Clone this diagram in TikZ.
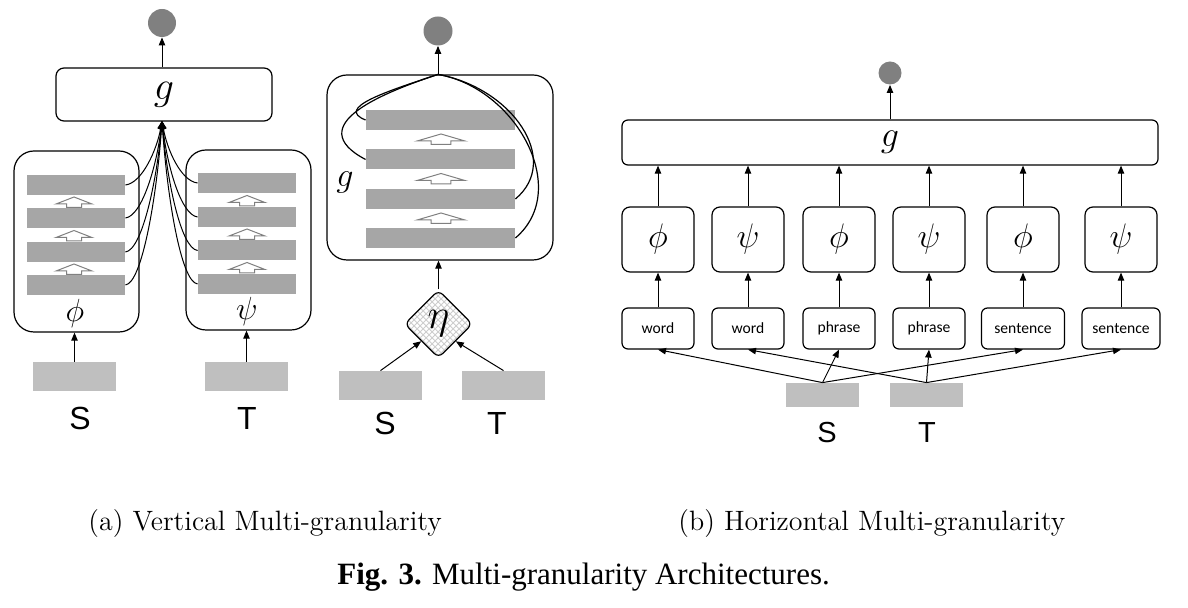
\RequirePackage{fix-cm}
\documentclass[tikz,border=0pt]{standalone}
\usepackage{amsmath}
\usepackage{fontspec}
\newfontfamily\letterfont{Liberation Sans}
\newfontfamily\tagfont{Carlito}
\newfontfamily\capfont{Liberation Serif}
\usetikzlibrary{arrows.meta,shapes.geometric,patterns}

\tikzset{
  box/.style={draw, line width=0.6pt, rounded corners=4pt, inner sep=0pt},
  bar/.style={fill=black!35, minimum width=49pt, minimum height=10pt, inner sep=0pt},
  src/.style={fill=black!25, minimum width=41.5pt, minimum height=14.5pt, inner sep=0pt},
  outdot/.style={circle, fill=black!50, minimum size=14pt, inner sep=0pt},
  arr/.style={-{Triangle[length=4pt,width=3.2pt]}, line width=0.5pt},
  link/.style={line width=0.6pt},
  hollowup/.pic={\draw[black!50, fill=white, line width=0.5pt] (-7.5,3.5) -- (-7.5,0) -- (-18,0) -- (0,-7) -- (18,0) -- (7.5,0) -- (7.5,3.5) -- cycle;}
}

\begin{document}
\begin{tikzpicture}[x=0.5pt,y=-0.5pt]
\useasboundingbox (0,0) rectangle (1188,608);

% (a) vertical, two towers
\node[outdot] (outA) at (162,23) {};
\node[box, minimum width=108pt, minimum height=26.5pt] (gA) at (164,94.5) {\fontsize{20}{20}\selectfont$g$};
\coordinate (apexA) at (162,121);
\draw[arr] (outA.south |- gA.north) -- (outA.south);

\node[box, rounded corners=10pt, minimum width=62.5pt, minimum height=90.5pt] (phiA) at (76.5,241.5) {};
\node[box, rounded corners=10pt, minimum width=62.5pt, minimum height=90pt] (psiA) at (248.5,240) {};
\node (phiAlab) at (75,314) {\fontsize{16}{16}\selectfont$\phi$};
\node (psiAlab) at (247,312) {\fontsize{16}{16}\selectfont$\psi$};
\foreach \i/\y in {1/185,2/218,3/252,4/285}
  \node[bar] (barA\i) at (76,\y) {};
\foreach \i/\y in {1/183,2/217,3/250.5,4/284}
  \node[bar] (barT\i) at (247,\y) {};
\foreach \y in {204,237.5,271}
  \pic at (74,\y) {hollowup};
\foreach \y in {202.5,236,269.5}
  \pic at (247,\y) {hollowup};
\foreach \i/\d in {1/28,2/43,3/58,4/73} {
  \draw[link,arr] (barA\i.east) .. controls +(17,-2) and +(-5,\d) .. (apexA);
  \draw[link,arr] (barT\i.west) .. controls +(-17,-2) and +(5,\d) .. (apexA);
}

\node[src] (SA) at (74.5,376.5) {};
\node[src] (TA) at (246.5,376.5) {};
\draw[arr] (SA.north) -- (SA.north |- phiA.south);
\draw[arr] (TA.north) -- (TA.north |- psiA.south);
\node (SAlab) at (80,418) {\letterfont\fontsize{16}{16}\selectfont S};
\node (TAlab) at (247,418) {\letterfont\fontsize{16}{16}\selectfont T};

% (a) vertical, shared g over eta
\node[outdot, minimum size=14.5pt] (outB) at (438,31) {};
\node[box, rounded corners=10pt, minimum width=113pt, minimum height=92.5pt] (gB) at (440,167.5) {};
\coordinate (apexB) at (outB.south |- gB.north);
\draw[arr] (apexB) -- (outB.south);
\node (gBlab) at (345,182) {\fontsize{17}{17}\selectfont$g$};
\foreach \i/\y in {1/120,2/159.5,3/199,4/238}
  \node[bar, minimum width=74.5pt] (barB\i) at (440.5,\y) {};
\foreach \y in {141,180.5,220}
  \pic[xscale=1.33] at (441,\y) {hollowup};
\draw[link] (barB1.west) .. controls (335,108) and (385,92) .. (apexB);
\draw[link] (barB2.west) .. controls (300,125) and (385,92) .. (apexB);
\draw[link] (barB3.east) .. controls (562,160) and (512,88) .. (apexB);
\draw[link] (barB4.east) .. controls (572,190) and (516,88) .. (apexB);

\node[diamond, draw, line width=0.6pt, rounded corners=3pt, pattern=crosshatch, pattern color=black!20,
  minimum width=34pt, minimum height=34pt, inner sep=0pt] (eta) at (438.5,324) {};
\node (etalab) at (eta) {\fontsize{21}{21}\selectfont$\eta$};
\draw[arr] (eta.north) -- (eta.north |- gB.south);
\node[src] (SB) at (380.5,385.5) {};
\node[src] (TB) at (503.5,385.5) {};
\draw[arr] (SB.north) -- (eta.south west);
\draw[arr] (TB.north) -- (eta.south east);
\node (SBlab) at (385,423) {\letterfont\fontsize{16}{16}\selectfont S};
\node (TBlab) at (497,423) {\letterfont\fontsize{16}{16}\selectfont T};

% (b) horizontal
\node[outdot, minimum size=11.5pt] (outC) at (890,73) {};
\node[box, rounded corners=3pt, minimum width=268pt, minimum height=22.5pt] (gC) at (890,142.5) {\fontsize{18}{18}\selectfont$g$};
\draw[arr] (outC.south |- gC.north) -- (outC.south);
\foreach \i/\x/\f/\t/\w in {1/658/\phi/word/36, 2/748/\psi/word/36, 3/839/\phi/phrase/36,
    4/929/\psi/phrase/36, 5/1023/\phi/sentence/41.5, 6/1121/\psi/sentence/39} {
  \node[box, minimum width=36pt, minimum height=32.5pt] (encC\i) at (\x,239.5) {\fontsize{17}{17}\selectfont$\f$};
  \node[box, rounded corners=3pt, minimum width=\w pt, minimum height=20.5pt] (tagC\i) at (\x,328.5) {\tagfont\fontsize{7.8}{8}\selectfont \t};
  \draw[arr] (tagC\i) -- (encC\i);
  \draw[arr] (encC\i) -- (encC\i.north |- gC.south);
}
\node[src, minimum width=36.5pt, minimum height=12pt] (SC) at (822.5,395) {};
\node[src, minimum width=36.5pt, minimum height=12pt] (TC) at (926.5,395) {};
\foreach \i in {1,3,5}
  \draw[arr] (SC.north) -- (tagC\i.south);
\foreach \i in {2,4,6}
  \draw[arr] (TC.north) -- (tagC\i.south);
\node (SClab) at (827,433) {\letterfont\fontsize{14.5}{14.5}\selectfont S};
\node (TClab) at (927,433) {\letterfont\fontsize{14.5}{14.5}\selectfont T};

% captions
\node[anchor=west, inner sep=0pt] (capA) at (88,524) {\fontsize{14}{16}\selectfont\addfontfeature{LetterSpace=3}(a) Vertical Multi-granularity};
\node[anchor=west, inner sep=0pt] (capB) at (678,524) {\fontsize{14}{16}\selectfont\addfontfeature{LetterSpace=3}(b) Horizontal Multi-granularity};
\node[anchor=west, inner sep=0pt] (capFig) at (337,577) {\capfont\fontsize{15.5}{18}\selectfont\textbf{Fig. 3.} Multi-granularity Architectures.};
\end{tikzpicture}
\end{document}
